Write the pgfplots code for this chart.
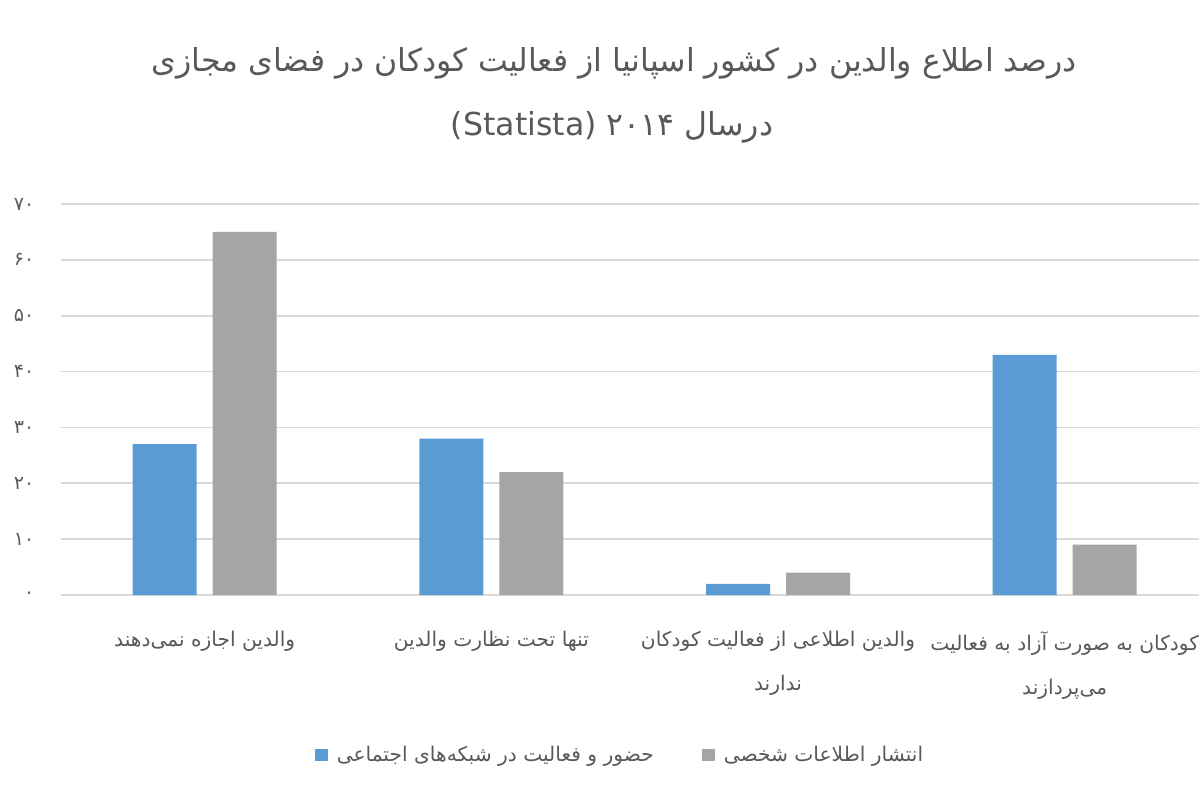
\documentclass[border=0pt]{standalone}
\usepackage{pgfplots}
\pgfplotsset{compat=1.18}
\usepackage{fontspec}
\setmainfont{DejaVu Sans}
\newfontfamily\fa[Script=Arabic]{DejaVu Sans}
\TeXXeTstate=1
\definecolor{cblue}{HTML}{5B9BD5}
\definecolor{cgray}{HTML}{A5A5A5}
\definecolor{ctext}{HTML}{595959}
\definecolor{cgrid}{HTML}{D9D9D9}
\begin{document}
\begin{tikzpicture}
\path[use as bounding box, fill=white] (0,0) rectangle (600pt,400pt);
\begin{axis}[
  at={(30.7pt,102.5pt)}, anchor=south west,
  scale only axis, width=569pt, height=195.5pt,
  ybar=8pt, bar width=32pt,
  xmin=-0.5, xmax=3.47, ymin=0, ymax=70,
  xtick={0,1,2,3},
  xticklabels={{\beginR والدین اجازه نمی‌دهند\endR},{\beginR تنها تحت نظارت والدین\endR},{\beginR والدین اطلاعی از فعالیت کودکان\endR\\\beginR ندارند\endR},{\beginR کودکان به صورت آزاد به فعالیت\endR\\\beginR می‌پردازند\endR}},
  ytick={0,10,...,70},
  yticklabels={۰,۱۰,۲۰,۳۰,۴۰,۵۰,۶۰,۷۰},
  axis line style={draw=none},
  tick style={draw=none},
  major tick length=0pt,
  ymajorgrids, grid style={cgrid, line width=0.8pt},
  xticklabel style={align=center, anchor=north, font={\fa\fontsize{10.1}{22}\selectfont}, text=ctext, yshift=-14.5pt},
  yticklabel style={anchor=east, font={\fa\fontsize{9.5}{11}\selectfont}, text=ctext, xshift=-10pt},
  legend style={at={(0.4917,-0.409)}, anchor=center, draw=none, fill=none, legend columns=2, font={\fa\fontsize{10.1}{11}\selectfont}, text=ctext, /tikz/every even column/.append style={column sep=22pt}},
  legend image code/.code={\fill[#1] (0pt,-3.2pt) rectangle (6.4pt,3.2pt); \path (9pt,0pt);},
]
\addplot[fill=cblue, draw=none] coordinates {(0,27) (1,28) (2,2) (3,43)};
\addplot[fill=cgray, draw=none] coordinates {(0,65) (1,22) (2,4) (3,9)};
\legend{\beginR حضور و فعالیت در شبکه‌های اجتماعی\endR,\beginR انتشار اطلاعات شخصی\endR}
\end{axis}
\node[font={\fa\fontsize{15.8}{18}\selectfont}, text=ctext] at (307pt,368.5pt) {\beginR درصد اطلاع والدین در کشور اسپانیا از فعالیت کودکان در فضای مجازی\endR};
\node[font={\fa\fontsize{15.8}{18}\selectfont}, text=ctext] at (306pt,336.5pt) {\beginR درسال ۲۰۱۴ \beginL{\rmfamily (Statista)}\endL\endR};
\end{tikzpicture}
\end{document}
